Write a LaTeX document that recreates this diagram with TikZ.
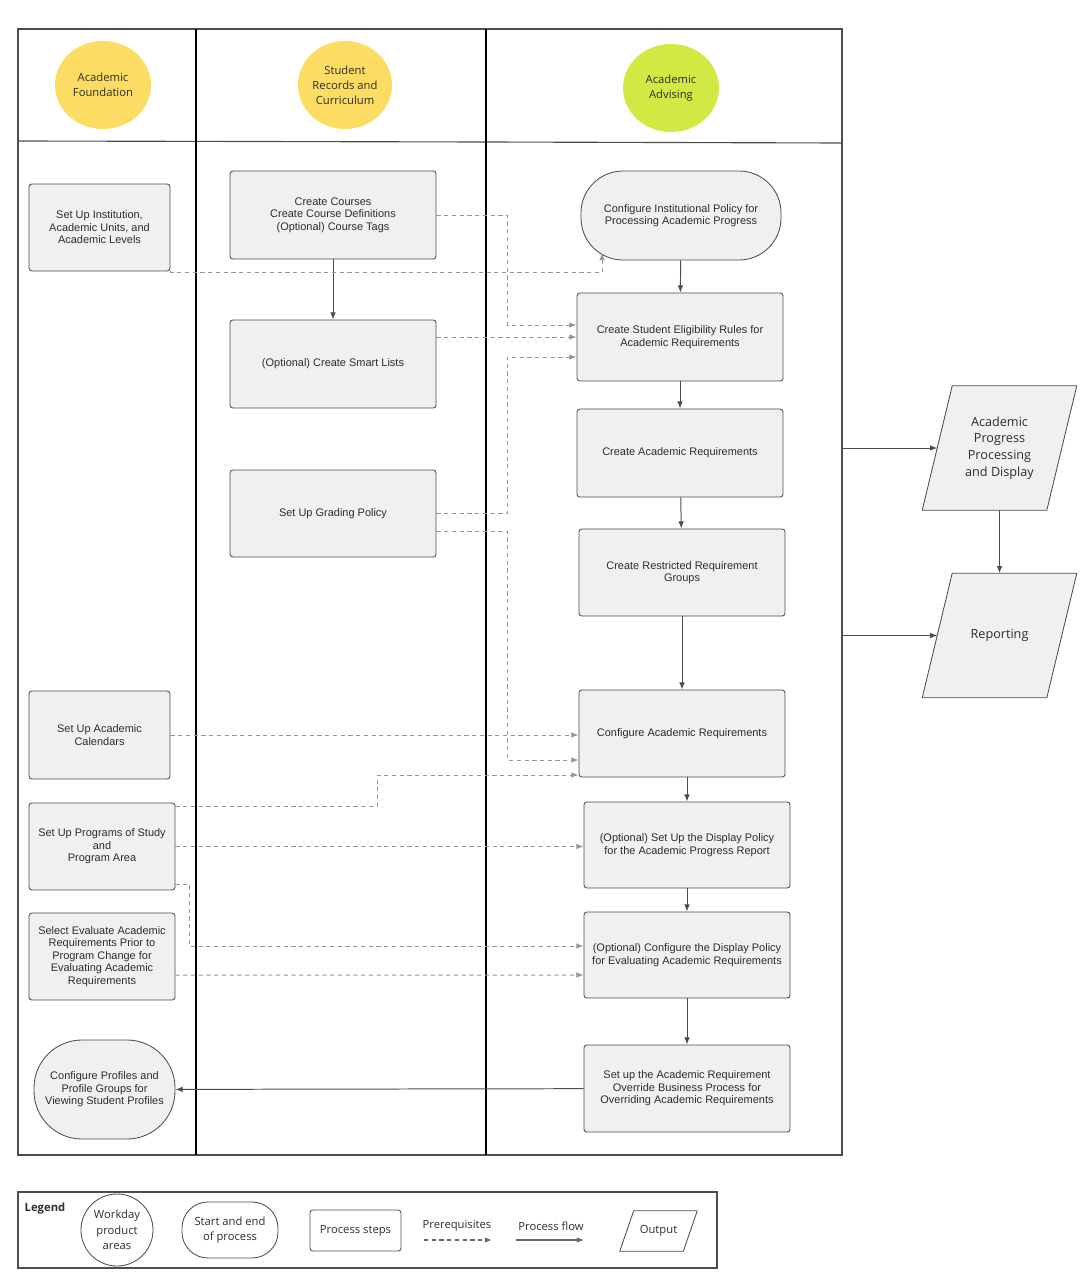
\documentclass[tikz,border=0pt]{standalone}
\usepackage{fontspec}
\setmainfont{Liberation Sans}
\newfontfamily\opensans{Open Sans}
\usetikzlibrary{arrows.meta,shapes.geometric,calc,backgrounds}
\definecolor{boxfill}{RGB}{240,240,240}
\definecolor{boxline}{RGB}{77,77,77}
\definecolor{txtgray}{RGB}{45,45,45}
\definecolor{predash}{RGB}{150,150,150}
\definecolor{areayel}{RGB}{252,220,98}
\definecolor{areagrn}{RGB}{211,232,66}

\begin{document}
\begin{tikzpicture}[
  x=0.025cm, y=-0.025cm,
  font=\fontsize{7.8}{8.9}\selectfont, text=txtgray,
  prc/.style={draw=boxline,line width=0.6pt,rounded corners=2pt,fill=boxfill,
              align=center,inner sep=2pt,minimum width=5.15cm,minimum height=2.2cm},
  term/.style={prc,rounded corners=1.05cm},
  area/.style={ellipse,align=center,inner sep=0pt,minimum width=2.4cm,minimum height=2.2cm,
               font=\opensans\fontsize{8}{10.8}\selectfont},
  outp/.style={align=center,inner sep=0pt,minimum width=3.1cm,minimum height=3.1cm,
               font=\opensans\fontsize{9}{11.8}\selectfont},
  slant/.style={draw=boxline,line width=0.6pt,fill=boxfill,line join=round},
  lgd/.style={font=\opensans\fontsize{8}{11}\selectfont,align=center},
  arr/.style={-{Latex[length=1.8mm,width=1.4mm]},draw=boxline,line width=0.7pt},
  pre/.style={-{Latex[length=1.8mm,width=1.4mm]},draw=predash,line width=0.7pt,dash pattern=on 3pt off 2.5pt}
]
\useasboundingbox (0,0) rectangle (1087,1280);

% swimlanes
\draw[boxline,line width=0.8pt] (18,29) rectangle (842,1155);
\draw[boxline,line width=0.8pt] (18,141) -- (486,142) -- (842,143);
\draw[black,line width=1.3pt] (196,29) -- (196,1155);
\draw[black,line width=1.3pt] (486,29) -- (486,1155);

% product areas
\node[area,fill=areayel] (hfnd) at (103,85) {Academic\\Foundation};
\node[area,fill=areayel,minimum width=2.35cm] (hrec) at (345,85) {Student\\Records and\\Curriculum};
\node[area,fill=areagrn] (hadv) at (671,88) {Academic\\Advising};

% academic foundation
\node[prc,minimum width=3.525cm,minimum height=2.175cm] (inst) at (99.5,227.5) {Set Up Institution,\\Academic Units, and\\Academic Levels};
\node[prc,minimum width=3.525cm] (cal) at (99.5,735) {Set Up Academic\\Calendars};
\node[prc,minimum width=3.65cm,minimum height=2.175cm] (prog) at (102,846.5) {Set Up Programs of Study\\and\\Program Area};
\node[prc,minimum width=3.65cm,minimum height=2.175cm] (eval) at (102,956.5) {Select Evaluate Academic\\Requirements Prior to\\Program Change for\\Evaluating Academic\\Requirements};
\node[term,minimum width=3.525cm,minimum height=2.475cm,rounded corners=1.2cm] (prof) at (104.5,1089.5) {Configure Profiles and\\Profile Groups for\\Viewing Student Profiles};

% student records and curriculum
\node[prc] (courses) at (333,215) {Create Courses\\Create Course Definitions\\(Optional) Course Tags};
\node[prc] (smart) at (333,364) {(Optional) Create Smart Lists};
\node[prc,minimum height=2.175cm] (grade) at (333,513.5) {Set Up Grading Policy};

% academic advising
\node[term,minimum width=5cm,minimum height=2.225cm] (pol) at (681,215.5) {Configure Institutional Policy for\\Processing Academic Progress};
\node[prc] (elig) at (680,337) {Create Student Eligibility Rules for\\Academic Requirements};
\node[prc] (areq) at (680,453) {Create Academic Requirements};
\node[prc,minimum height=2.175cm] (restr) at (682,572.5) {Create Restricted Requirement\\Groups};
\node[prc,minimum height=2.175cm] (cfg) at (682,733.5) {Configure Academic Requirements};
\node[prc,minimum height=2.15cm] (disp) at (687,845) {(Optional) Set Up the Display Policy\\for the Academic Progress Report};
\node[prc,minimum height=2.15cm] (cdisp) at (687,955) {(Optional) Configure the Display Policy\\for Evaluating Academic Requirements};
\node[prc,minimum height=2.175cm] (ovr) at (687,1088.5) {Set up the Academic Requirement\\Override Business Process for\\Overriding Academic Requirements};

% outputs
\node[outp] (apd) at (999.5,448) {Academic\\Progress\\Processing\\and Display};
\node[outp] (rep) at (999.5,635.5) {Reporting};
\begin{scope}[on background layer]
\foreach \o in {apd,rep}
  \draw[slant] ($(\o.south west)+(-15,0)$) -- ($(\o.north west)+(15,0)$)
    -- ($(\o.north east)+(15,0)$) -- ($(\o.south east)+(-15,0)$) -- cycle;
\end{scope}
\coordinate (o1) at (842,448);
\coordinate (o2) at (842,635.5);
\coordinate (polin) at (602,253);

% process flow
\draw[arr] (courses) -- (smart);
\draw[arr] (pol) -- (elig);
\draw[arr] (elig) -- (areq);
\draw[arr] (areq) -- (restr);
\draw[arr] (restr) -- (cfg);
\draw[arr] (disp.north |- cfg.south) -- (disp.north);
\draw[arr] (disp) -- (cdisp);
\draw[arr] (cdisp) -- (ovr);
\draw[arr] (ovr) -- (prof);
\draw[arr] (o1) -- (apd.west);
\draw[arr] (o2) -- (rep.west);
\draw[arr] (apd) -- (rep);

% prerequisites
\draw[pre] (inst.south east) -- ++(0,1) -| (polin);
\draw[pre] (courses.east) -- ++(71,0) |- ($(elig.west)+(0,-12)$);
\draw[pre] ($(smart.east)+(0,-27)$) -- (elig.west);
\draw[pre] (grade.east) -- ++(71,0) |- ($(elig.west)+(0,20)$);
\draw[pre] ($(grade.east)+(0,17.5)$) -- ++(71,0) |- ($(cfg.west)+(0,26.5)$);
\draw[pre] (cal.east) -- (cal.east -| cfg.west);
\draw[pre] ($(prog.east)+(0,-40.5)$) -- ++(202,0) |- ($(cfg.west)+(0,41.5)$);
\draw[pre] (prog.east) -- (prog.east -| disp.west);
\draw[pre] ($(prog.east)+(0,37.5)$) -- ++(14,0) |- ($(cdisp.west)+(0,-9)$);
\draw[pre] ($(eval.east)+(0,18.5)$) -- ($(cdisp.west)+(0,20)$);

% legend
\draw[boxline,line width=0.8pt] (18,1192) rectangle (717,1268);
\node[lgd,font=\opensans\bfseries\fontsize{8}{11}\selectfont] (lgt) at (45,1209) {Legend};
\node[lgd,circle,draw=boxline,line width=0.6pt,minimum size=1.8cm,inner sep=0pt] (lg1) at (117,1230) {Workday\\product\\areas};
\node[lgd,draw=boxline,line width=0.6pt,rounded corners=0.65cm,minimum width=2.4cm,minimum height=1.4cm,inner sep=0pt] (lg2) at (230,1230) {Start and end\\of process};
\node[lgd,draw=boxline,line width=0.6pt,rounded corners=2pt,minimum width=2.275cm,minimum height=1.025cm,inner sep=0pt] (lg3) at (355.5,1230.5) {Process steps};
\node[lgd] (lg4) at (457,1226) {Prerequisites};
\coordinate (p1) at (424,1240);
\coordinate (p2) at (492,1240);
\draw[pre,draw=boxline!85,line width=0.9pt] (p1) -- (p2);
\node[lgd] (lg5) at (551,1226) {Process flow};
\coordinate (f1) at (516,1240);
\coordinate (f2) at (584,1240);
\draw[arr,draw=boxline!85,line width=0.9pt] (f1) -- (f2);
\node[lgd,inner sep=0pt,minimum width=1.575cm,minimum height=1cm] (lg6) at (658.5,1231) {Output};
\draw[slant,fill=none] ($(lg6.south west)+(-7,0)$) -- ($(lg6.north west)+(7,0)$)
  -- ($(lg6.north east)+(7,0)$) -- ($(lg6.south east)+(-7,0)$) -- cycle;
\end{tikzpicture}
\end{document}
